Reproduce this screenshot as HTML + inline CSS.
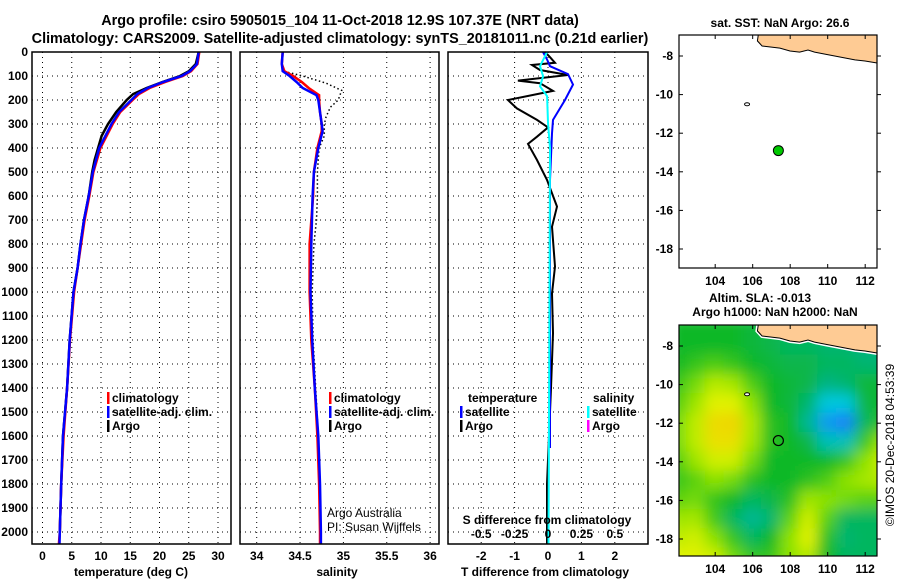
<!DOCTYPE html>
<html><head><meta charset="utf-8"><style>
html,body{margin:0;padding:0;background:#fff;}
svg{display:block;font-family:"Liberation Sans",Arial,sans-serif;}
.b{font-weight:bold;font-size:12px;fill:#000;}
.t{font-weight:bold;font-size:14.4px;fill:#000;}
</style></head><body>
<svg id="s" width="900" height="580" viewBox="0 0 900 580" xmlns="http://www.w3.org/2000/svg">
<defs>
<clipPath id="cm2"><rect x="679" y="325" width="198" height="231"/></clipPath>
<clipPath id="cm1"><rect x="679" y="35" width="198" height="233"/></clipPath>
<filter id="bl" x="-20%" y="-20%" width="140%" height="140%"><feGaussianBlur stdDeviation="7"/></filter>
</defs>
<text class="t" x="340" y="25" text-anchor="middle">Argo profile: csiro 5905015_104 11-Oct-2018 12.9S 107.37E (NRT data)</text>
<text class="t" x="340" y="43" text-anchor="middle">Climatology: CARS2009. Satellite-adjusted climatology: synTS_20181011.nc (0.21d earlier)</text>
</svg>
<script>
// ---- data ----
const tDepth=[0,50,80,100,125,150,175,200,250,300,400,500,600,700,800,900,1000,1200,1400,1600,1800,2000,2050];
const tClim=[26.8,26.5,25.4,24.0,21.0,18.3,16.5,15.4,13.3,12.0,9.9,8.7,8.0,7.2,6.6,6.0,5.4,4.7,4.2,3.6,3.2,2.95,2.8];
const tSat=[26.7,26.4,25.2,23.8,20.6,18.0,16.2,15.2,13.1,11.8,9.7,8.6,7.9,7.1,6.5,6.0,5.3,4.65,4.2,3.5,3.2,2.95,2.9];
const argDepth=[0,50,80,100,125,150,175,200,250,300,350,400,450,500,600,700,800,900,1000,1200,1400,1600,1800,2000];
const argT=[26.7,26.2,25.0,23.5,20.5,17.8,15.5,14.4,12.6,11.2,10.1,9.5,8.9,8.5,7.9,7.1,6.5,6.0,5.3,4.65,4.2,3.5,3.2,2.95];
const sDepth=[0,50,80,100,125,150,180,200,250,300,330,400,500,600,800,1000,1200,1400,1600,1800,2000,2050];
const sSat=[34.30,34.29,34.30,34.38,34.46,34.53,34.69,34.71,34.73,34.75,34.76,34.71,34.66,34.645,34.63,34.62,34.64,34.67,34.71,34.73,34.74,34.74];
const sClim=[34.30,34.29,34.32,34.42,34.52,34.60,34.72,34.72,34.73,34.75,34.75,34.70,34.66,34.65,34.61,34.61,34.63,34.67,34.70,34.72,34.73,34.73];
const argSDepth=[0,50,80,100,130,160,200,230,270,300,350,400,500,600,700,800,1000,1200,1400,1600,1800,2000];
const argS=[34.30,34.29,34.31,34.53,34.80,34.98,34.94,34.85,34.80,34.78,34.78,34.72,34.70,34.70,34.69,34.66,34.64,34.65,34.68,34.71,34.73,34.74];
const dtArgDepth=[0,20,45,54,75,96,119,130,162,200,235,283,314,353,383,450,533,644,728,894,1006,1172,1400,1600,1800,2050];
const dtArg=[-0.09,0.05,0.21,-0.48,-0.24,0.6,-0.9,-0.24,0.15,-1.2,-0.93,-0.33,0,-0.33,-0.6,-0.33,-0.03,0.27,0.12,0.21,0.12,0.15,0.09,0.03,-0.03,-0.03];
const dtSatDepth=[0,31,59,92,136,200,283,339,533,1650];
const dtSat=[-0.15,-0.03,0.06,0.6,0.75,0.51,0.15,0.12,0.06,0.06];
const dsSatDepth=[0,59,101,143,184,295,400,2050];
const dsSat=[-0.007,-0.06,-0.037,-0.06,-0.007,0,0.015,0.004];
const depthTicks=[0,100,200,300,400,500,600,700,800,900,1000,1100,1200,1300,1400,1500,1600,1700,1800,1900,2000];
const tTicks=[0,5,10,15,20,25,30];
const sTicks=[34,34.5,35,35.5,36];
const sTickLabels=["34","34.5","35","35.5","36"];
const dTTicks=[-2,-1,0,1,2];
const dSTicks=[-0.5,-0.25,0,0.25,0.5];
const dSTickLabels=["-0.5","-0.25","0","0.25","0.5"];
const lonTicks=[104,106,108,110,112];
const latTicks=[-8,-10,-12,-14,-16,-18];
const coastLon=[106.3,106.25,106.5,107.45,107.99,108.5,108.95,109.3,109.85,110.65,111.45,111.99,112.6];
const coastLat=[-6.9,-7.22,-7.48,-7.59,-7.74,-7.8,-7.69,-7.8,-7.9,-8.05,-8.2,-8.26,-8.36];
const floatLon=107.37, floatLat=-12.9;
const islandLon=105.7, islandLat=-10.5;
const slaLons=[102,103,104,105,106,107,108,109,110,111,112,113];
const slaLats=[-7,-8,-9,-10,-11,-12,-13,-14,-15,-16,-17,-18,-19];
const sla=[
[0,0,0,0,-0.1,-0.2,-0.3,-0.3,-0.3,-0.4,-0.4,-0.4],
[0,0,0,0,-0.1,-0.2,-0.3,-0.3,-0.4,-0.4,-0.5,-0.5],
[0,0.3,0.5,0.3,0,-0.1,-0.2,-0.2,-0.3,-0.3,-0.4,-0.4],
[0.3,0.8,1.5,1.3,0.5,0,-0.1,-0.2,-0.5,-0.4,-0.1,-0.1],
[0.5,1.2,2.0,2.0,1.0,0,-0.1,-0.4,-1.0,-1.0,-0.2,0],
[0.8,1.6,2.5,2.6,1.4,0.2,0,-0.6,-1.5,-1.8,-0.3,0.2],
[0.8,1.6,2.4,2.4,1.3,0.2,0,-0.2,-0.8,-0.8,0.3,1.2],
[0.5,1.2,1.8,1.8,0.8,0,0,0,0,0.3,1.0,1.8],
[0.3,0.6,1.0,0.8,0.2,0,0,0.2,0.5,1.0,1.3,1.5],
[0.6,0.8,0.3,0,-0.3,-0.2,0.2,1.2,1.0,0.8,0.6,0.6],
[1.2,1.3,0.4,-0.3,-0.6,-0.4,0.6,1.8,0.6,-0.3,-0.3,-0.3],
[1.6,1.8,1.0,0.3,-0.3,0,1.0,2.0,0.2,-0.4,-0.3,-0.3],
[2.0,2.0,1.8,0.8,0.3,0.3,1.0,1.5,0,-0.3,-0.3,-0.3]];

// ---- helpers ----
const S=document.getElementById('s');const NS='http://www.w3.org/2000/svg';
function mk(tag,a,parent){const e=document.createElementNS(NS,tag);for(const k in a)e.setAttribute(k,a[k]);(parent||S).appendChild(e);return e;}
function txt(x,y,s,cls,anchor){const e=mk('text',{x:x,y:y,class:cls||'b','text-anchor':anchor||'start'});e.textContent=s;return e;}
const Y0=52,KY=0.24; const yD=d=>Y0+d*KY;
const TOP=52,BOT=544;
function panel(x0,x1,name){const r=mk('rect',{x:x0,y:TOP,width:x1-x0,height:BOT-TOP,fill:'none',stroke:'#000','stroke-width':1.5});}
function hgrid(x0,x1){depthTicks.forEach(d=>{if(d>0){const l=mk('line',{x1:x0,x2:x1,y1:yD(d),y2:yD(d),stroke:'#000','stroke-dasharray':'1,4','stroke-width':1});}});}
function vgrid(xs){xs.forEach(x=>{const l=mk('line',{x1:x,x2:x,y1:TOP,y2:BOT,stroke:'#000','stroke-dasharray':'1,4','stroke-width':1});});}
function line(xs,ds,fx,color,w,name,dash){const p=xs.map((v,i)=>fx(v).toFixed(1)+','+yD(ds[i]).toFixed(1)).join(' ');const a={points:p,fill:'none',stroke:color,'stroke-width':w};if(dash)a['stroke-dasharray']=dash;const e=mk('polyline',a);}

depthTicks.forEach(d=>{const e=txt(28,yD(d)+4,String(d),'b','end');});

// panel 1 temperature
const xT=v=>42.5+v*5.85;
hgrid(32,231);vgrid(tTicks.map(xT));
line(argT,argDepth,xT,'#000',2.5,'argo-temperature-line');
line(tClim,tDepth,xT,'#f00',2.5,'climatology-temperature-line');
line(tSat,tDepth,xT,'#00f',2.5,'satellite-temperature-line');
panel(32,231,'temperature-panel');
tTicks.forEach(v=>{const e=txt(xT(v),560,String(v),'b','middle');});
{const e=txt(131,576,'temperature (deg C)','b','middle');}

// panel 2 salinity
const xS=v=>256.7+(v-34)*86.7;
hgrid(240,439);vgrid(sTicks.map(xS));
line(argS,argSDepth,xS,'#000',1.5,'argo-salinity-line','1.5,2.5');
line(sClim,sDepth,xS,'#f00',2.5,'climatology-salinity-line');
line(sSat,sDepth,xS,'#00f',2.5,'satellite-salinity-line');
panel(240,439,'salinity-panel');
sTicks.forEach((v,i)=>{const e=txt(xS(v),560,sTickLabels[i],'b','middle');});
{const e=txt(337,576,'salinity','b','middle');}
{const e=txt(327,517,'Argo Australia','b');e.setAttribute('style','font-weight:normal');}
{const e=txt(327,531,'PI: Susan Wijffels','b');e.setAttribute('style','font-weight:normal');}

function legend(x,y,items,name){items.forEach((it,i)=>{const r=mk('rect',{x:x,y:y+i*14-10,width:2.5,height:12,fill:it[0]});const e=txt(x+5,y+i*14,it[1]);});}
legend(107,402,[['#f00','climatology'],['#00f','satellite-adj. clim.'],['#000','Argo']],'temperature-legend');
legend(329,402,[['#f00','climatology'],['#00f','satellite-adj. clim.'],['#000','Argo']],'salinity-legend');

// panel 3 differences
const xdT=v=>548+v*33.4, xdS=v=>548+v*133.6;
hgrid(448,648);vgrid(dTTicks.map(xdT));
line(dtArg,dtArgDepth,xdT,'#000',2,'argo-temperature-diff-line');
line(dtSat,dtSatDepth,xdT,'#00f',2,'satellite-temperature-diff-line');
line(dsSat,dsSatDepth,xdS,'#0ff',2,'satellite-salinity-diff-line');
panel(448,648,'difference-panel');
{const e=txt(468,402,'temperature');}
{const e=txt(593,402,'salinity');}
legend(460,416,[['#00f','satellite'],['#000','Argo']],'diff-temperature-legend');
legend(587,416,[['#0ff','satellite'],['#f0f','Argo']],'diff-salinity-legend');
{const e=txt(547,524,'S difference from climatology','b','middle');}
dSTicks.forEach((v,i)=>{const e=txt(xdS(v),538,dSTickLabels[i],'b','middle');});
dTTicks.forEach(v=>{const e=txt(xdT(v),560,String(v),'b','middle');});
{const e=txt(545,576,'T difference from climatology','b','middle');}

// maps
const mx=lon=>679+(lon-102.07)*18.75;
function my(lat,top){return (top?56:346)+(-8-lat)*19.3;}
function coast(top,parent){let p=coastLon.map((l,i)=>mx(l).toFixed(1)+','+my(coastLat[i],top).toFixed(1)).join(' ');
 const y0=top?35:325;p=mx(coastLon[0]).toFixed(1)+','+y0+' '+p+' 880,'+my(-8.4,top).toFixed(1)+' 880,'+y0;
 const w=mk('polygon',{points:p,fill:'none',stroke:'#fff','stroke-width':4},parent);
 const e=mk('polygon',{points:p,fill:'#fecb94',stroke:'#000','stroke-width':1},parent);
 const i=mk('ellipse',{cx:mx(islandLon),cy:my(islandLat,top),rx:2.5,ry:1.5,fill:'#fff',stroke:'#000','stroke-width':1},parent);}
function mapAxes(top){const y0=top?35:325,y1=top?268:556;
 const r=mk('rect',{x:679,y:y0,width:198,height:y1-y0,fill:'none',stroke:'#000','stroke-width':1.2});
 lonTicks.forEach(l=>{mk('line',{x1:mx(l),x2:mx(l),y1:y0,y2:y0+4,stroke:'#000'});mk('line',{x1:mx(l),x2:mx(l),y1:y1,y2:y1-4,stroke:'#000'});const e=txt(mx(l),y1+17,String(l),'b','middle');});
 latTicks.forEach(l=>{const y=my(l,top);mk('line',{x1:679,x2:683,y1:y,y2:y,stroke:'#000'});mk('line',{x1:877,x2:881,y1:y,y2:y,stroke:'#000'});const e=txt(673,y+4,String(l),'b','end');});}
{const g=mk('g',{'clip-path':'url(#cm1)'});coast(true,g);
 const c=mk('circle',{cx:mx(floatLon),cy:my(floatLat,true),r:5,fill:'#00c800',stroke:'#000','stroke-width':1},g);}
mapAxes(true);
{const e=txt(780,27,'sat. SST: NaN Argo: 26.6','b','middle');}
{const e=txt(760,302,'Altim. SLA: -0.013','b','middle');}
{const e=txt(775,316,'Argo h1000: NaN h2000: NaN','b','middle');}
const stops=[[-2,[30,110,255]],[-1,[0,200,220]],[-0.5,[0,180,130]],[0,[16,184,40]],[1,[140,226,0]],[2,[224,242,0]],[3,[248,196,0]]];
function cmap(v){if(v<=stops[0][0])return stops[0][1];for(let i=1;i<stops.length;i++){if(v<=stops[i][0]){const a=stops[i-1],b=stops[i],t=(v-a[0])/(b[0]-a[0]);return a[1].map((c,k)=>Math.round(c+(b[1][k]-c)*t));}}return stops[stops.length-1][1];}
{const g=mk('g',{'clip-path':'url(#cm2)'});
 const h=mk('g',{filter:'url(#bl)'},g);
 slaLats.forEach((lat,i)=>slaLons.forEach((lon,j)=>{const c=cmap(sla[i][j]);const r=mk('rect',{x:mx(lon-0.5)-1,y:my(lat+0.5,false)-1,width:20.8,height:21.3,fill:'rgb('+c.join(',')+')'},h);}));
 coast(false,g);
 const c=mk('circle',{cx:mx(floatLon),cy:my(floatLat,false),r:5,fill:'none',stroke:'#000','stroke-width':1.2},g);}
mapAxes(false);
{const e=txt(0,0,'©IMOS 20-Dec-2018 04:53:39','b','middle');e.setAttribute('style','font-weight:normal');e.setAttribute('transform','translate(894,445) rotate(-90)');}
</script>
</body></html>
